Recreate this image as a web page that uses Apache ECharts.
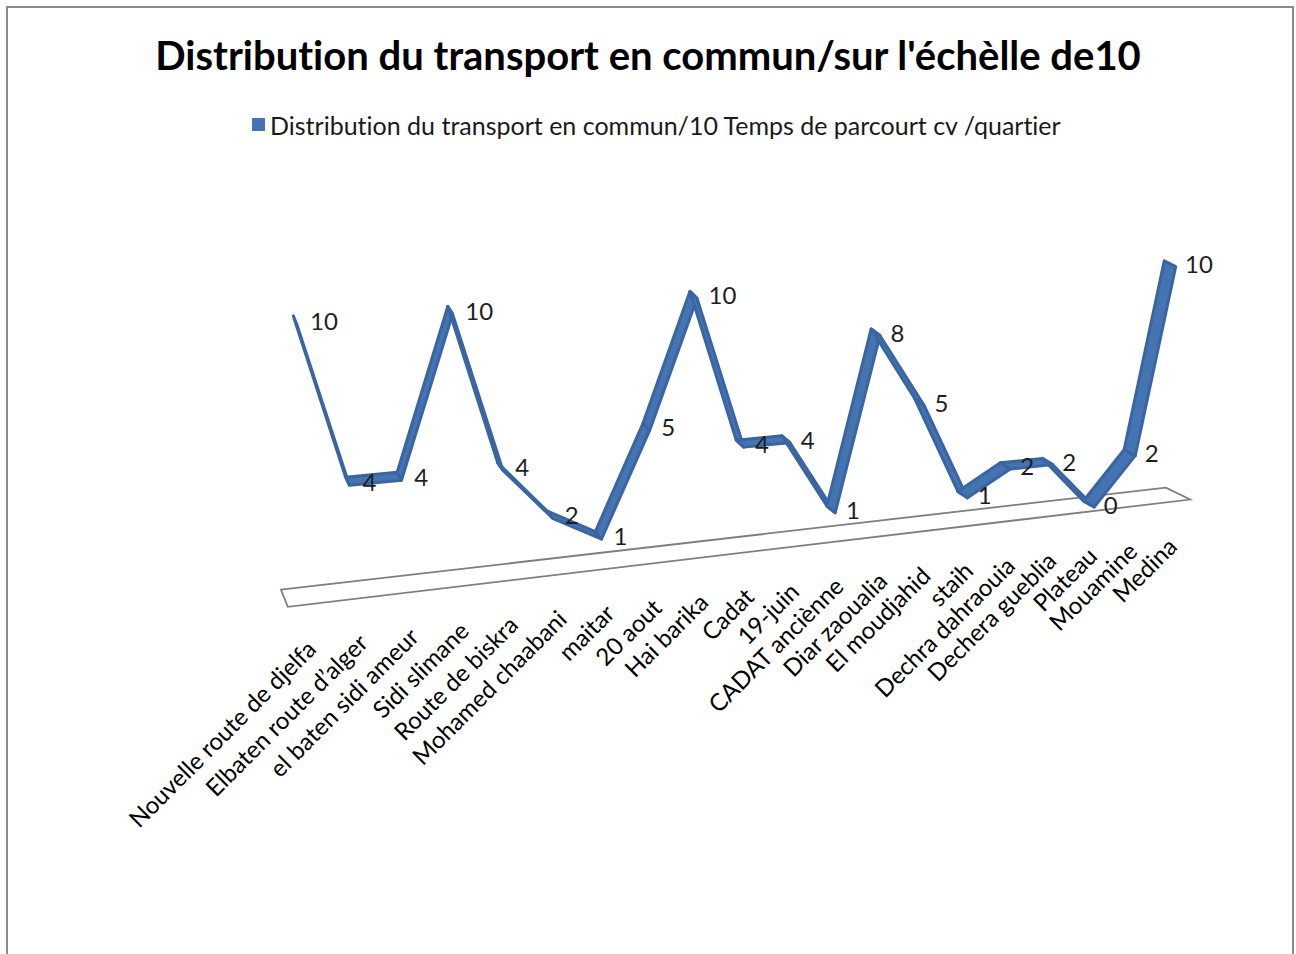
<!DOCTYPE html>
<html>
<head>
<meta charset="utf-8">
<script src="https://cdn.jsdelivr.net/npm/echarts@6/dist/echarts.min.js"></script>
<style>
  html, body { margin: 0; padding: 0; background: #ffffff; }
  #chart { width: 1296px; height: 954px; }
  #chart text { font-variant-ligatures: none; font-feature-settings: "liga" 0, "clig" 0; }
</style>
</head>
<body>
<div id="chart"></div>
<script>
// Quartiers (categories) and their score out of 10
const categories = [
  'Nouvelle route de djelfa', 'Elbaten route d\u2019alger', 'el baten sidi ameur',
  'Sidi slimane', 'Route de biskra', 'Mohamed chaabani', 'maitar', '20 aout',
  'Hai barika', 'Cadat', '19-juin', 'CADAT anci\u00e8nne', 'Diar zaoualia',
  'El moudjahid', 'staih', 'Dechra dahraouia', 'Dechera gueblia', 'Plateau',
  'Mouamine', 'Medina'
];
const values = [10, 4, 4, 10, 4, 2, 1, 5, 10, 4, 4, 1, 8, 5, 1, 2, 2, 0, 2, 10];

const seriesName = 'Distribution du transport en commun/10 Temps de parcourt cv /quartier';
const titleText = "Distribution du transport en commun/sur l'\u00e9ch\u00e8lle de10";

// 3D look: perspective foreshortening along the category axis (horizontal and
// vertical), rising floor, and the floor depth vector at both ends of the axis.
const PERSP_X = 0.15;
const PERSP_Y = 0.2;
const RISE = 102.5;
const DEPTH_L = [7, 17];
const DEPTH_R = [24, 12];
const RIBBON = 0.48;            // ribbon depth as a share of the floor depth
const LABEL_DX = [16, 2];       // category label anchor offset, left / right end
const LABEL_DY = 47;

const FONT = 'Lato, "Open Sans", sans-serif';
const LINE_COLOR = '#4474b2';

function project(api, i, v, depthFrac) {
  const p = api.coord([i, v]);
  const o = api.coord([0, 0]);
  const e = api.coord([categories.length - 1, 0]);
  const W = e[0] - o[0];
  const u = (p[0] - o[0]) / W;
  const f = u * (1 + PERSP_X) / (1 + PERSP_X * u);
  const s = 1 / (1 + PERSP_Y * u);
  const h = (o[1] - p[1]) * s;
  const dx = DEPTH_L[0] + (DEPTH_R[0] - DEPTH_L[0]) * f;
  const dy = DEPTH_L[1] + (DEPTH_R[1] - DEPTH_L[1]) * f;
  return {
    x: o[0] + W * f + dx * depthFrac,
    y: o[1] - RISE * f - h + dy * depthFrac,
    f: f
  };
}

function pt(q) { return [q.x, q.y]; }

function renderItem(params, api) {
  const i = params.dataIndex;
  const v = api.value(1);
  const n = categories.length;
  const children = [];

  // floor slab under the line
  if (i === 0) {
    const a = project(api, -0.2, 0, -0.5);
    const b = project(api, n - 0.8, 0, -0.5);
    const c = project(api, n - 0.8, 0, 0.5);
    const d = project(api, -0.2, 0, 0.5);
    children.push({
      type: 'polygon',
      z2: 0,
      shape: { points: [pt(a), pt(b), pt(c), pt(d)] },
      style: { fill: '#ffffff', stroke: '#7f7f7f', lineWidth: 1.8 }
    });
  }

  // ribbon segment to the next quartier
  if (i < n - 1) {
    const vn = values[i + 1];
    const p1 = project(api, i, v, -RIBBON / 2);
    const p2 = project(api, i + 1, vn, -RIBBON / 2);
    const p3 = project(api, i + 1, vn, RIBBON / 2);
    const p4 = project(api, i, v, RIBBON / 2);
    children.push({
      type: 'polygon',
      z2: 10,
      shape: { points: [pt(p1), pt(p2), pt(p3), pt(p4)] },
      style: { fill: LINE_COLOR, stroke: '#3966a2', lineWidth: 3, lineJoin: 'round' }
    });
  }

  // value label
  const c0 = project(api, i, v, 0);
  children.push({
    type: 'text',
    z2: 100,
    x: c0.x + 15,
    y: c0.y,
    style: {
      text: String(v),
      align: 'left',
      verticalAlign: 'middle',
      fill: '#1e1e1e',
      font: '24px ' + FONT
    }
  });

  // category label, slanted along the floor
  const b0 = project(api, i, 0, 0);
  children.push({
    type: 'text',
    z2: 100,
    x: b0.x + LABEL_DX[0] + (LABEL_DX[1] - LABEL_DX[0]) * b0.f,
    y: b0.y + LABEL_DY,
    rotation: Math.PI / 4,
    style: {
      text: categories[i],
      align: 'right',
      verticalAlign: 'middle',
      fill: '#000000',
      font: '24px ' + FONT
    }
  });

  return { type: 'group', children: children };
}

const chart = echarts.init(document.getElementById('chart'), null, { renderer: 'svg' });
chart.setOption({
  animation: false,
  backgroundColor: '#ffffff',
  title: {
    text: titleText,
    left: 'center',
    top: 30,
    textStyle: { fontFamily: FONT, fontSize: 40, fontWeight: 'bold', color: '#000000' }
  },
  legend: {
    top: 107,
    left: 247,
    icon: 'rect',
    itemWidth: 13,
    itemHeight: 13,
    itemGap: 8,
    textStyle: { fontFamily: FONT, fontSize: 25, color: '#1a1a1a' },
    data: [seriesName]
  },
  graphic: [{
    type: 'rect',
    shape: { x: 7, y: 7, width: 1286, height: 980 },
    style: { fill: 'none', stroke: '#8a8a8a', lineWidth: 2 },
    silent: true
  }],
  grid: { left: 295, top: 320, width: 875, height: 277 },
  xAxis: { type: 'value', min: 0, max: categories.length - 1, show: false },
  yAxis: { type: 'value', min: 0, max: 10, show: false },
  series: [{
    name: seriesName,
    type: 'custom',
    color: LINE_COLOR,
    itemStyle: { color: LINE_COLOR },
    renderItem: renderItem,
    data: values.map((v, i) => [i, v])
  }]
});
</script>
</body>
</html>
